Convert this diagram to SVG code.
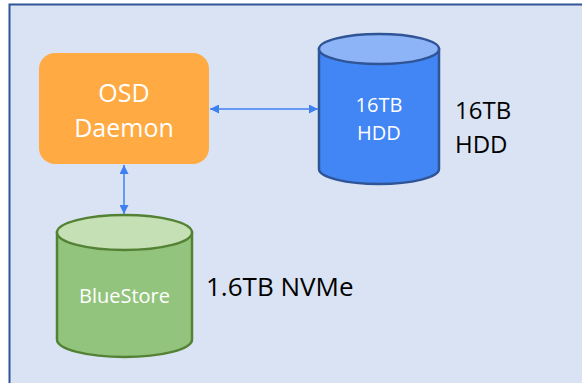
<svg xmlns="http://www.w3.org/2000/svg" width="582" height="383" viewBox="0 0 582 383">
<style>
.lbl{font-family:"Open Sans","Noto Sans",sans-serif;fill:#fff;text-anchor:middle}
.out{font-family:"Open Sans","Noto Sans",sans-serif;fill:#000}
.conn{stroke:#3F80F0;stroke-width:1.5;fill:none}
</style>
<defs>
<marker id="ah" viewBox="0 0 10 10" refX="10" refY="5" markerWidth="9" markerHeight="9" markerUnits="userSpaceOnUse" orient="auto-start-reverse">
<path d="M0,0 L10,5 L0,10 z" fill="#3F80F0"/>
</marker>
</defs>
<rect x="0" y="0" width="582" height="383" fill="#fff"/>
<rect x="9.5" y="4.5" width="600" height="400" fill="#DAE3F3" stroke="#2F5597" stroke-width="2"/>
<g id="osd">
<rect x="39" y="53" width="170" height="111" rx="16" fill="#FFAA42"/>
<text class="lbl" x="124" y="102" font-size="25">OSD</text>
<text class="lbl" x="124" y="137" font-size="25">Daemon</text>
</g>
<g id="hdd">
<path d="M319,49 L319,169 A60,15 0 0 0 439,169 L439,49 Z" fill="#4285F4" stroke="#2F5597" stroke-width="2.5"/>
<ellipse cx="379" cy="49" rx="60" ry="15" fill="#8EB4F8" stroke="#2F5597" stroke-width="2.5"/>
<text class="lbl" x="379" y="112" font-size="20">16TB</text>
<text class="lbl" x="379" y="140" font-size="20">HDD</text>
</g>
<g id="bluestore">
<path d="M57,232.5 L57,339.5 A67.5,17.5 0 0 0 192,339.5 L192,232.5 Z" fill="#93C47D" stroke="#548235" stroke-width="2.5"/>
<ellipse cx="124.5" cy="232.5" rx="67.5" ry="17.5" fill="#C5E0B4" stroke="#548235" stroke-width="2.5"/>
<text class="lbl" x="124.5" y="303" font-size="20">BlueStore</text>
</g>
<g id="hdd-label">
<text class="out" x="455" y="119" font-size="24">16TB</text>
<text class="out" x="455" y="153" font-size="24">HDD</text>
</g>
<g id="nvme-label">
<text class="out" x="206" y="296" font-size="26">1.6TB NVMe</text>
</g>
<g id="connectors">
<line class="conn" x1="210" y1="109" x2="318" y2="109" marker-start="url(#ah)" marker-end="url(#ah)"/>
<line class="conn" x1="124" y1="165" x2="124" y2="214" marker-start="url(#ah)" marker-end="url(#ah)"/>
</g>
</svg>
